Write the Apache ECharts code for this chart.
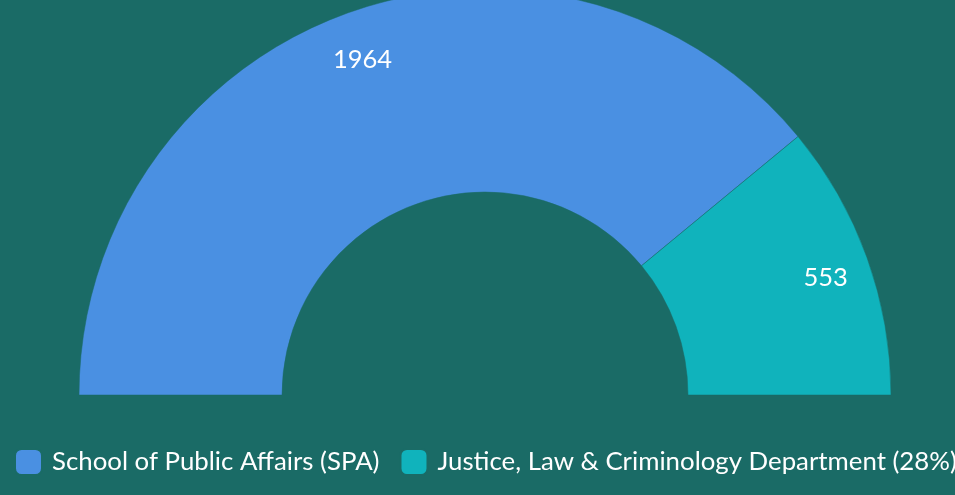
<!DOCTYPE html>
<html>
<head>
    <meta charset="utf-8"/>
    <style>
        html, body { margin: 0; padding: 0; background: #1a6b66; }
        #chart { width: 955px; height: 495px; }
    </style>
</head>
<body>
<div id="chart"></div>
<script src="https://cdn.jsdelivr.net/npm/echarts@6/dist/echarts.min.js"></script>
<script>
    var categories = ['School of Public Affairs (SPA)', 'Justice, Law & Criminology Department (28%)'];
    var values = [1964, 553];
    var colors = ['#4a90e2', '#10b3bc'];

    var chart = echarts.init(document.getElementById('chart'));

    var pieData = categories.map(function (name, i) {
        return { name: name, value: values[i], itemStyle: { color: colors[i] } };
    });

    var option = {
        backgroundColor: '#1a6b66',
        animation: false,
        legend: {
            left: 9,
            top: 443,
            width: 2000, // keep both items on one row, the second runs off the edge
            itemWidth: 27,
            itemHeight: 26,
            itemGap: 20,
            icon: 'roundRect',
            textStyle: {
                color: '#ffffff',
                fontFamily: 'Lato',
                fontSize: 25.8,
                padding: [0, 0, 0, 5]
            },
            data: categories
        },
        series: [{
            // the half donut
            type: 'pie',
            center: [485, 395],
            radius: [203, 406],
            startAngle: 180,
            endAngle: 0,
            silent: true,
            label: { show: false },
            labelLine: { show: false },
            itemStyle: { borderColor: '#1a6b66', borderWidth: 0.5 },
            data: pieData
        }, {
            // transparent ring only used to place the value labels
            type: 'pie',
            center: [485, 400],
            radius: [312, 406],
            startAngle: 180,
            endAngle: 0,
            silent: true,
            legendHoverLink: false,
            itemStyle: { color: 'rgba(0,0,0,0)' },
            label: {
                show: true,
                position: 'inside',
                formatter: '{c}',
                color: '#ffffff',
                fontFamily: 'Lato',
                fontSize: 25.5
            },
            labelLine: { show: false },
            data: categories.map(function (name, i) {
                return { name: name, value: values[i] };
            })
        }]
    };
    chart.setOption(option);

    window.onresize = function () {
        chart.resize();
    };
</script>
</body>
</html>
